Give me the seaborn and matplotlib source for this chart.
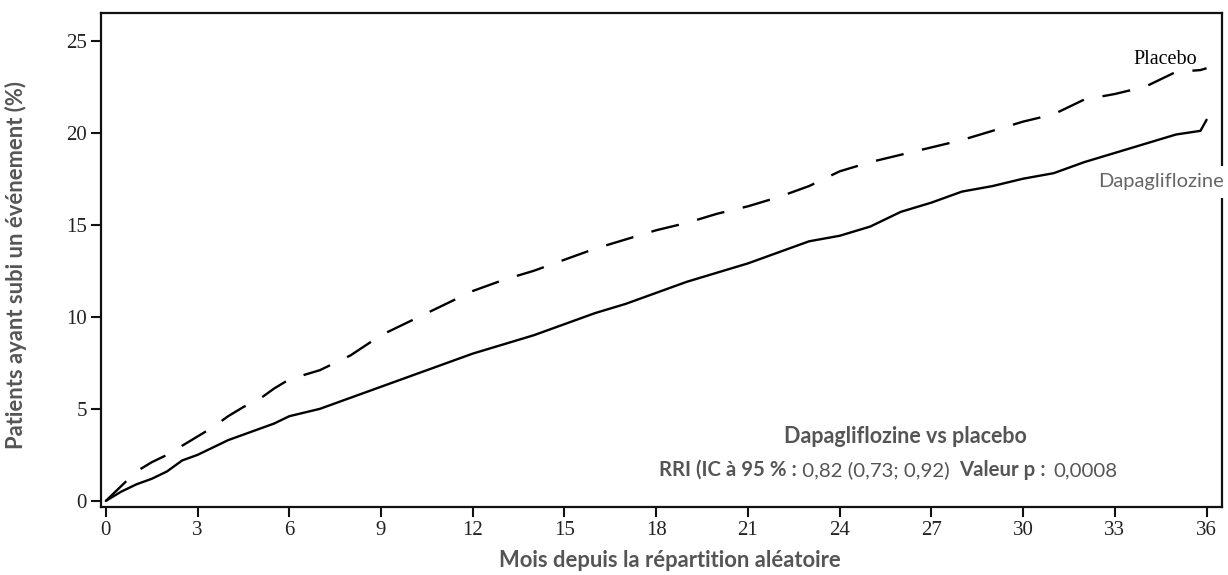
import numpy as np
import pandas as pd
import matplotlib
matplotlib.use("Agg")
import matplotlib.pyplot as plt
import seaborn as sns

# ---- data ----
months = [0, 0.5, 1, 1.5, 2, 2.5, 3, 3.5, 4, 4.5, 5, 5.5, 6, 7, 8, 9, 10, 11, 12, 13, 14, 15, 16, 17, 18,
          19, 20, 21, 22, 23, 24, 25, 26, 27, 28, 29, 30, 31, 32, 33, 34, 35, 35.8, 36]
placebo = [0, 0.8, 1.6, 2.1, 2.5, 3.0, 3.5, 4.0, 4.6, 5.1, 5.5, 6.1, 6.6, 7.1, 7.9, 9.0, 9.8, 10.6, 11.4,
           12.0, 12.5, 13.1, 13.7, 14.2, 14.7, 15.1, 15.6, 16.0, 16.5, 17.1, 17.9, 18.4, 18.8, 19.2, 19.6,
           20.1, 20.6, 21.0, 21.8, 22.1, 22.5, 23.3, 23.4, 23.5]
dapa = [0, 0.5, 0.9, 1.2, 1.6, 2.2, 2.5, 2.9, 3.3, 3.6, 3.9, 4.2, 4.6, 5.0, 5.6, 6.2, 6.8, 7.4, 8.0,
        8.5, 9.0, 9.6, 10.2, 10.7, 11.3, 11.9, 12.4, 12.9, 13.5, 14.1, 14.4, 14.9, 15.7, 16.2, 16.8,
        17.1, 17.5, 17.8, 18.4, 18.9, 19.4, 19.9, 20.1, 20.7]
series_names = ["Placebo", "Dapagliflozine"]
xticks = list(range(0, 37, 3))
yticks = [0, 5, 10, 15, 20, 25]

df = pd.DataFrame({
    "Mois": months * 2,
    "Pct": placebo + dapa,
    "Groupe": [series_names[0]] * len(months) + [series_names[1]] * len(months),
})

sns.set_theme(style="white")
plt.rcParams["font.family"] = ["Lato", "DejaVu Sans"]

fig = plt.figure(figsize=(12.28, 5.75), dpi=100)
ax = fig.add_axes([0.0822, 0.1183, 0.9128, 0.8591])

sns.lineplot(data=df, x="Mois", y="Pct", hue="Groupe", style="Groupe",
             palette={"Placebo": "black", "Dapagliflozine": "black"},
             dashes={"Placebo": (12, 8), "Dapagliflozine": ""},
             linewidth=1.7, legend=False, ax=ax)

ax.set_xlim(-0.16, 36.5)
ax.set_ylim(-0.33, 26.5)
ax.set_xticks(xticks)
ax.set_yticks(yticks)
ax.set_xticklabels([str(t) for t in xticks], family="Liberation Serif", fontsize=15, color="#222222")
ax.set_yticklabels([str(t) for t in yticks], family="Liberation Serif", fontsize=15, color="#222222")
ax.tick_params(axis="both", direction="out", length=7, width=1.5, color="#111111", pad=3,
               bottom=True, left=True)

for s in ax.spines.values():
    s.set_visible(True)
    s.set_color("#111111")
    s.set_linewidth(1.6)

grey = "#555555"
ax.set_xlabel("Mois depuis la répartition aléatoire", fontsize=15.8, fontweight="bold", color=grey)
ax.xaxis.set_label_coords(0.508, -0.088)
ax.set_ylabel("Patients ayant subi un événement (%)", fontsize=15.8, fontweight="bold", color=grey)
ax.yaxis.set_label_coords(-0.066, 0.49)

# curve labels
ax.text(35.7, 24.0, "Placebo", family="Liberation Serif", fontsize=14.5, color="black",
        ha="right", va="center")
fig.text(0.9965, 1 - 182 / 575, "Dapagliflozine", fontsize=14.5, color="#666666", ha="right",
         va="center", zorder=5,
         bbox=dict(boxstyle="square,pad=0.35", facecolor="white", edgecolor="none"))

# statistics annotation
ax.text(26.15, 3.5, "Dapagliflozine vs placebo", fontsize=15.5, fontweight="bold", color=grey,
        ha="center", va="center")
t1 = ax.text(18.1, 1.7, "RRI (IC à 95 % :", fontsize=14.7, fontweight="bold", color=grey,
             ha="left", va="center")
t2 = ax.annotate(" 0,82 (0,73; 0,92)", xy=(1, 0), xycoords=t1, xytext=(0, 0),
                 textcoords="offset points", fontsize=14.7, color=grey, ha="left", va="bottom")
t3 = ax.annotate("Valeur p :", xy=(1, 0), xycoords=t2, xytext=(7, 0),
                 textcoords="offset points", fontsize=14.7, fontweight="bold", color=grey,
                 ha="left", va="bottom")
t4 = ax.annotate("0,0008", xy=(1, 0), xycoords=t3, xytext=(5, 0),
                 textcoords="offset points", fontsize=14.7, color=grey, ha="left", va="bottom")

fig.savefig("out.png", dpi=100, facecolor="white")
